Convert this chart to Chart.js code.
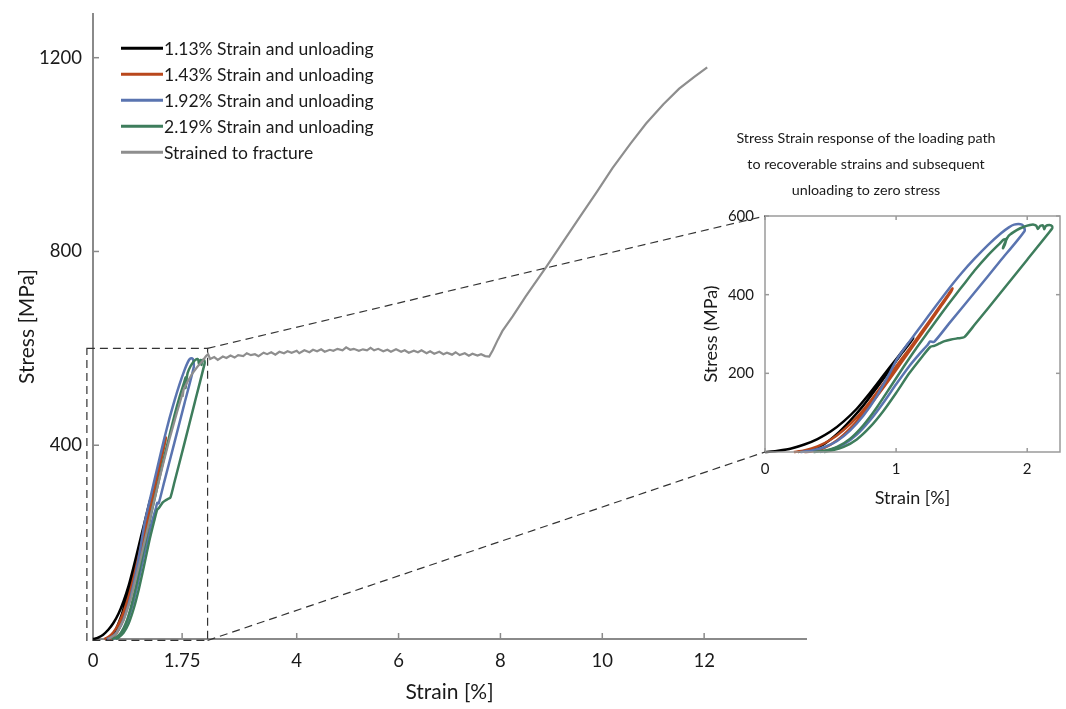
<!DOCTYPE html>
<html>
<head>
<meta charset="utf-8">
<title>Stress strain response</title>
<script src="https://cdn.jsdelivr.net/npm/chart.js@4.4.1/dist/chart.umd.min.js"></script>
<style>
  html, body { margin: 0; padding: 0; background: #fff; }
  #wrap { position: relative; width: 1066px; height: 709px; }
  #wrap canvas { position: absolute; left: 0; top: 0; }
  #inset-chart { pointer-events: none; }
</style>
</head>
<body>
<div id="wrap">
  <canvas id="main-chart" width="1066" height="709"></canvas>
  <canvas id="inset-chart" width="1066" height="709"></canvas>
</div>
<script>
// series labels and colours (legend order)
const seriesLabels = [
    "1.13% Strain and unloading",
    "1.43% Strain and unloading",
    "1.92% Strain and unloading",
    "2.19% Strain and unloading",
    "Strained to fracture"
];
const seriesColors = ["#000000", "#b9471c", "#5a74b0", "#3e7d5c", "#8e8e8e"];

// 1.13% strain, loading then unloading
const strain113 = [0, 0.05, 0.1, 0.2, 0.3, 0.4, 0.5, 0.6, 0.7, 0.8, 0.9, 1.0, 1.08, 1.13, 1.12, 1.05, 0.95, 0.85, 0.75, 0.65, 0.55, 0.45, 0.35, 0.25];
const stress113 = [0, 1, 3, 9, 19, 33, 52, 78, 110, 150, 193, 236, 270, 290, 284, 254, 208, 162, 118, 80, 46, 20, 5, 0];

// 1.43% strain
const strain143 = [0.22, 0.3, 0.4, 0.5, 0.6, 0.7, 0.8, 0.9, 1.0, 1.1, 1.2, 1.3, 1.4, 1.43, 1.42, 1.35, 1.25, 1.15, 1.05, 0.95, 0.85, 0.75, 0.65, 0.55, 0.45, 0.35, 0.3];
const stress143 = [0, 4, 14, 31, 56, 88, 128, 172, 218, 262, 308, 355, 402, 416, 408, 374, 326, 279, 232, 185, 140, 98, 60, 30, 10, 1, 0];

// 1.92% strain
const strain192 = [0.27, 0.35, 0.45, 0.55, 0.65, 0.75, 0.85, 0.95, 1.01, 1.1, 1.2, 1.3, 1.4, 1.5, 1.6, 1.7, 1.8, 1.86, 1.9, 1.95, 1.97, 1.98, 1.8, 1.6, 1.4, 1.29, 1.26, 1.24, 1.18, 1.1, 1.0, 0.9, 0.8, 0.7, 0.6, 0.5, 0.42];
const stress192 = [0, 3, 12, 28, 55, 92, 140, 200, 238, 280, 325, 370, 414, 455, 492, 526, 556, 571, 578, 579, 575, 562, 488, 406, 325, 280, 281, 272, 250, 218, 172, 124, 80, 44, 19, 6, 0];

// 2.19% strain
const strain219 = [0.37, 0.45, 0.55, 0.65, 0.75, 0.85, 0.95, 1.06, 1.15, 1.25, 1.35, 1.45, 1.52, 1.6, 1.7, 1.79, 1.82, 1.84, 1.83, 1.815, 1.83, 1.86, 1.92, 1.97, 2.02, 2.05, 2.07, 2.08, 2.1, 2.12, 2.13, 2.14, 2.17, 2.19, 2.19, 2.0, 1.8, 1.6, 1.52, 1.47, 1.42, 1.37, 1.33, 1.29, 1.26, 1.2, 1.1, 1.0, 0.9, 0.8, 0.7, 0.6, 0.5, 0.45];
const stress219 = [0, 3, 13, 34, 68, 112, 162, 218, 262, 308, 354, 398, 428, 462, 500, 530, 540, 541, 528, 518, 532, 550, 564, 572, 577, 578, 575, 567, 575, 576, 566, 574, 577, 574, 568, 489, 406, 324, 292, 289, 286, 282, 276, 270, 267, 243, 200, 150, 103, 63, 32, 13, 3, 0];

// strained to fracture: loading, noisy plateau, hardening
const strainFracture = [0.3, 0.45, 0.6, 0.75, 0.9, 1.05, 1.2, 1.35, 1.5, 1.65, 1.74, 1.77, 1.76, 1.78, 1.85, 1.95, 2.05, 2.15, 2.22, 2.26,
    2.3, 2.38, 2.45, 2.55, 2.62, 2.7, 2.78, 2.85, 2.95, 3.02, 3.1, 3.18, 3.25, 3.35, 3.42, 3.5, 3.58, 3.66, 3.75, 3.82, 3.9, 4.0,
    4.05, 4.15, 4.25, 4.32, 4.4, 4.48, 4.55, 4.65, 4.72, 4.8, 4.9, 4.97, 5.05, 5.12, 5.22, 5.3, 5.38, 5.45, 5.52, 5.6, 5.7, 5.78,
    5.85, 5.95, 6.05, 6.12, 6.2, 6.3, 6.38, 6.45, 6.55, 6.62, 6.7, 6.8, 6.88, 6.95, 7.05, 7.12, 7.2, 7.3, 7.38, 7.45, 7.55, 7.62, 7.7, 7.78,
    7.85, 7.95, 8.04, 8.24, 8.5, 8.9, 9.2, 9.55, 9.9, 10.2, 10.55, 10.86, 11.2, 11.51, 11.8, 12.06];
const stressFracture = [0, 10, 38, 85, 150, 218, 285, 350, 412, 468, 500, 512, 500, 515, 530, 548, 562, 574, 584, 588,
    578, 582, 576, 583, 580, 585, 581, 586, 584, 590, 586, 588, 584, 591, 588, 592, 587, 593, 590, 594, 591, 595,
    590, 596, 592, 597, 594, 598, 593, 597, 595, 599, 596, 602, 597, 599, 595, 598, 596, 601, 596, 599, 594, 597,
    593, 598, 593, 596, 591, 595, 592, 596, 590, 594, 589, 593, 588, 591, 587, 592, 586, 590, 585, 589, 585, 588, 584, 583,
    596, 618, 636, 666, 708, 768, 815, 870, 924, 972, 1022, 1064, 1104, 1136, 1160, 1180];

// axes
const mainStrainTicks = [0, 1.75, 4, 6, 8, 10, 12];
const mainStressTicks = [400, 800, 1200];
const insetStrainTicks = [0, 1, 2];
const insetStressTicks = [200, 400, 600];
const zoomStrain = [-0.12, 2.25];
const zoomStress = [-3, 600];
const insetTitle = [
    "Stress Strain response of the loading path",
    "to recoverable strains and subsequent",
    "unloading to zero stress"
];

const textColor = "#1a1a1a";
const axisGray = "#8a8a8a";

Chart.defaults.font.family = "Lato, 'Open Sans', sans-serif";
Chart.defaults.color = textColor;

function toPoints(xs, ys) {
    return xs.map((x, i) => ({ x: x, y: ys[i] }));
}

const allStrains = [strain113, strain143, strain192, strain219, strainFracture];
const allStresses = [stress113, stress143, stress192, stress219, stressFracture];

function makeDatasets(count) {
    const sets = [];
    for (let i = 0; i < count; i++) {
        sets.push({
            label: seriesLabels[i],
            data: toPoints(allStrains[i], allStresses[i]),
            borderColor: seriesColors[i],
            borderWidth: i === 4 ? 2.2 : 2.5,
            pointRadius: 0,
            tension: i === 4 ? 0 : 0.2,
            fill: false,
            clip: false,
            order: 5 - i
        });
    }
    return sets;
}

function line(ctx, x1, y1, x2, y2) {
    ctx.beginPath();
    ctx.moveTo(x1, y1);
    ctx.lineTo(x2, y2);
    ctx.stroke();
}

const mainDecor = {
    id: "mainDecor",
    afterDatasetsDraw(chart) {
        const { ctx, chartArea: a, scales: { x, y } } = chart;
        ctx.save();
        // inward tick marks
        ctx.strokeStyle = axisGray;
        ctx.lineWidth = 1.5;
        mainStrainTicks.forEach(v => {
            if (v === 0) return;
            const px = x.getPixelForValue(v);
            line(ctx, px, a.bottom, px, a.bottom - 6);
        });
        mainStressTicks.forEach(v => {
            const py = y.getPixelForValue(v);
            line(ctx, a.left, py, a.left + 6, py);
        });

        // dashed box round the zoomed region
        ctx.setLineDash([8, 5]);
        ctx.strokeStyle = "#333";
        ctx.lineWidth = 1.2;
        const l = x.getPixelForValue(zoomStrain[0]);
        const r = x.getPixelForValue(zoomStrain[1]);
        const t = y.getPixelForValue(zoomStress[1]);
        const b = y.getPixelForValue(zoomStress[0]);
        ctx.strokeRect(l, t, r - l, b - t);
        ctx.setLineDash([]);

        // legend
        ctx.font = "17.5px Lato";
        ctx.textBaseline = "middle";
        ctx.fillStyle = textColor;
        chart.data.datasets.forEach((ds, i) => {
            const ly = y.getPixelForValue(1300) + 39 + i * 26;
            ctx.strokeStyle = ds.borderColor;
            ctx.lineWidth = 3;
            line(ctx, a.left + 28, ly, a.left + 70, ly);
            ctx.fillText(ds.label, a.left + 71, ly + 1);
        });
        ctx.restore();
    }
};

const mainChart = new Chart(document.getElementById("main-chart"), {
    type: "line",
    data: { datasets: makeDatasets(5) },
    plugins: [mainDecor],
    options: {
        responsive: false,
        animation: false,
        parsing: false,
        layout: { autoPadding: false, padding: { left: 0, top: 0, right: 260, bottom: 0 } },
        plugins: { legend: { display: false }, tooltip: { enabled: false } },
        scales: {
            x: {
                type: "linear",
                min: 0,
                max: 14,
                afterFit: s => { s.height = 70; },
                afterBuildTicks: s => { s.ticks = mainStrainTicks.map(v => ({ value: v })); },
                grid: { display: false },
                border: { display: true, color: axisGray, width: 2 },
                ticks: { padding: 3, font: { size: 18.5 }, color: textColor, callback: v => String(v), maxRotation: 0 },
                title: { display: true, text: "Strain [%]", font: { size: 21 }, color: textColor, padding: { top: 0, bottom: 4 } }
            },
            y: {
                type: "linear",
                min: 0,
                max: 1290,
                afterFit: s => { s.width = 93; },
                afterBuildTicks: s => { s.ticks = mainStressTicks.map(v => ({ value: v })); },
                grid: { display: false },
                border: { display: true, color: axisGray, width: 2 },
                ticks: { padding: 3, font: { size: 18.5 }, color: textColor, callback: v => String(v) },
                title: { display: true, text: "Stress [MPa]", font: { size: 21 }, color: textColor, padding: { top: 15, bottom: 0 } }
            }
        }
    }
});

const insetDecor = {
    id: "insetDecor",
    afterDatasetsDraw(chart) {
        const { ctx, chartArea: a, scales: { x, y } } = chart;
        ctx.save();
        // frame and tick marks on all four sides
        ctx.strokeStyle = "#9a9a9a";
        ctx.lineWidth = 1.5;
        ctx.strokeRect(a.left, a.top, a.right - a.left, a.bottom - a.top);
        insetStrainTicks.forEach(v => {
            const px = x.getPixelForValue(v);
            line(ctx, px, a.bottom, px, a.bottom - 4);
            line(ctx, px, a.top, px, a.top + 4);
        });
        insetStressTicks.forEach(v => {
            const py = y.getPixelForValue(v);
            line(ctx, a.left, py, a.left + 4, py);
            line(ctx, a.right, py, a.right - 4, py);
        });

        // title above the inset
        ctx.font = "14.3px Lato";
        ctx.fillStyle = textColor;
        ctx.textAlign = "center";
        ctx.textBaseline = "middle";
        insetTitle.forEach((txt, i) => {
            ctx.fillText(txt, a.left + 101, a.top - 78 + i * 26);
        });

        // dashed connectors from the zoom box in the main chart
        const mx = mainChart.scales.x;
        const my = mainChart.scales.y;
        const bx = mx.getPixelForValue(zoomStrain[1]);
        const bt = my.getPixelForValue(zoomStress[1]);
        const bb = my.getPixelForValue(zoomStress[0]);
        const ix = x.getPixelForValue(0);
        ctx.setLineDash([8, 5]);
        ctx.strokeStyle = "#333";
        ctx.lineWidth = 1.2;
        line(ctx, bx, bt, ix, y.getPixelForValue(600));
        line(ctx, bx, bb, ix, y.getPixelForValue(0));
        ctx.restore();
    }
};

new Chart(document.getElementById("inset-chart"), {
    type: "line",
    data: { datasets: makeDatasets(4) },
    plugins: [insetDecor],
    options: {
        responsive: false,
        animation: false,
        parsing: false,
        layout: { autoPadding: false, padding: { left: 700, top: 216, right: 6, bottom: 197 } },
        plugins: { legend: { display: false }, tooltip: { enabled: false } },
        scales: {
            x: {
                type: "linear",
                min: 0,
                max: 2.25,
                afterFit: s => { s.height = 60; },
                afterBuildTicks: s => { s.ticks = insetStrainTicks.map(v => ({ value: v })); },
                grid: { display: false },
                border: { display: false },
                ticks: { padding: 0, font: { size: 15 }, color: textColor, callback: v => String(v), maxRotation: 0 },
                title: { display: true, text: "Strain [%]", font: { size: 18 }, color: textColor, padding: { top: 0, bottom: 3 } }
            },
            y: {
                type: "linear",
                min: 0,
                max: 600,
                afterFit: s => { s.width = 65; },
                afterBuildTicks: s => { s.ticks = insetStressTicks.map(v => ({ value: v })); },
                grid: { display: false },
                border: { display: false },
                ticks: { padding: 3, font: { size: 15 }, color: textColor, callback: v => String(v) },
                title: { display: true, text: "Stress (MPa)", font: { size: 18 }, color: textColor, padding: { top: 0, bottom: 0 } }
            }
        }
    }
});
</script>
</body>
</html>
